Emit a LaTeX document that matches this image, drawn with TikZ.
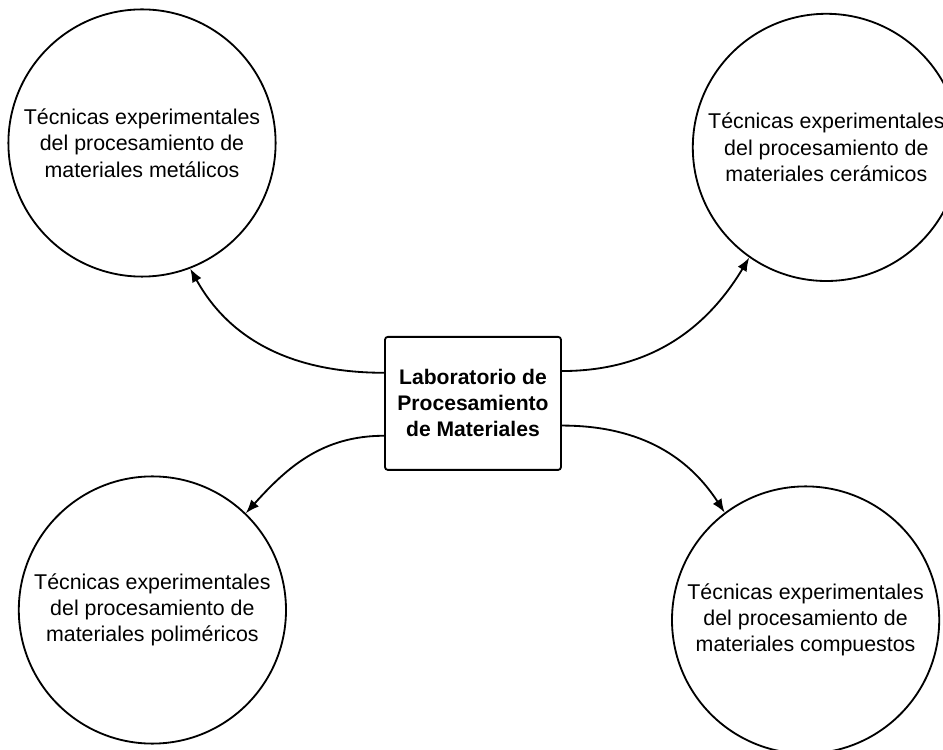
\documentclass[tikz,border=0pt]{standalone}
\usepackage{fontspec}
\setmainfont{Liberation Sans}
\usetikzlibrary{arrows.meta}
\tikzset{
  tecnica/.style={draw,circle,line width=1.3pt,minimum size=6.68cm,inner sep=0pt,
    align=center,font=\fontsize{15.2}{18.7}\selectfont},
  labbox/.style={draw,rounded corners=2pt,line width=1.3pt,minimum width=4.4cm,
    minimum height=3.325cm,align=center,font=\fontsize{15}{18.5}\selectfont\bfseries},
  flecha/.style={line width=1.3pt,-{Latex[length=3.4mm,width=2.6mm]}}
}
\begin{document}
\begin{tikzpicture}
\useasboundingbox (0,0) rectangle (23.575,18.725); %page
\node[labbox] (lab) at (11.825,8.64) {Laboratorio de\\Procesamiento\\de Materiales};
\node[tecnica] (met) at (3.55,15.15) {T\'ecnicas experimentales\\del procesamiento de\\materiales met\'alicos};
\node[tecnica] (cer) at (20.66,15.04) {T\'ecnicas experimentales\\del procesamiento de\\materiales cer\'amicos};
\node[tecnica] (pol) at (3.81,3.475) {T\'ecnicas experimentales\\del procesamiento de\\materiales polim\'ericos};
\node[tecnica] (com) at (20.14,3.225) {T\'ecnicas experimentales\\del procesamiento de\\materiales compuestos};
% arrows from the lab
\draw[flecha] (lab.161) to[out=180,in=-61] (met.-69);
\draw[flecha] (lab.20)  to[out=0,in=-121]  (cer.-125);
\draw[flecha] (lab.200) to[out=180,in=48]  (pol.46);
\draw[flecha] (lab.-14) to[out=0,in=123]   (com.127);
\end{tikzpicture}
\end{document}
